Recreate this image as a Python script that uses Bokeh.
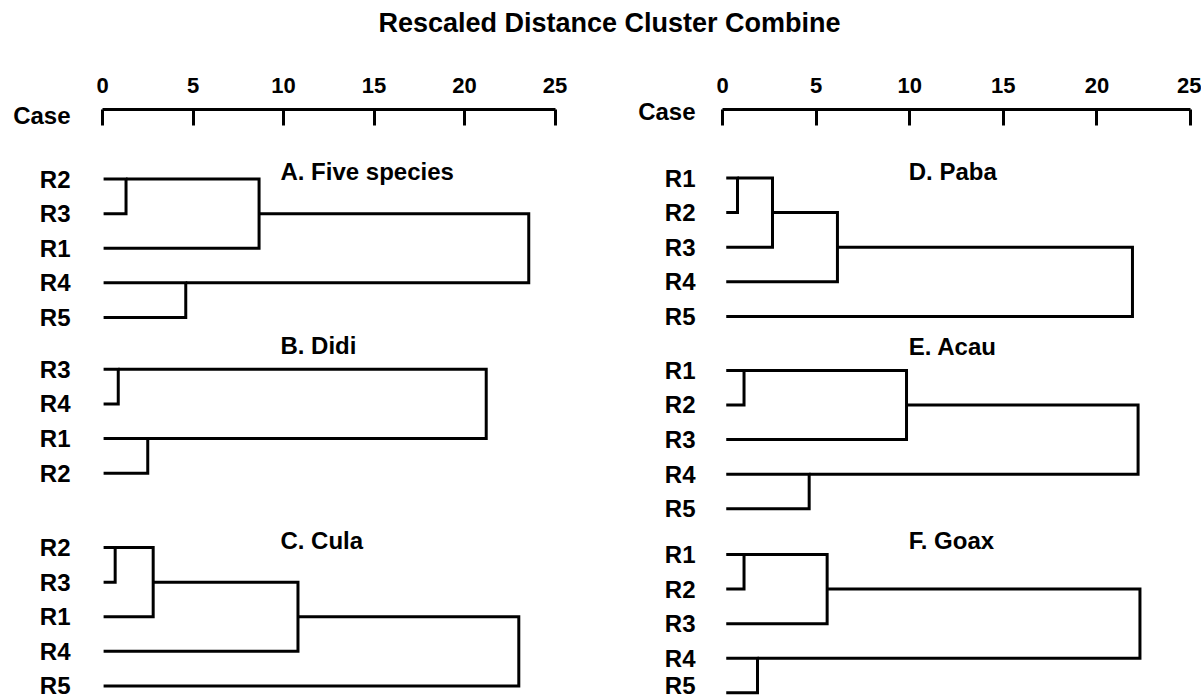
import math
from bokeh.plotting import figure
from bokeh.models import Range1d, LinearAxis, FixedTicker, Div
from bokeh.layouts import row, column
from bokeh.embed import file_html
from bokeh.resources import INLINE
from bokeh.core.properties import value

# ---------------- data ----------------
MAIN_TITLE = "Rescaled Distance Cluster Combine"
CASE_LABEL = "Case"
TICKS = [0, 5, 10, 15, 20, 25]

# links: (node_a, node_b, rescaled distance); leaves are 0..n-1 in display order,
# each merge creates the next node index
A_title = "A. Five species"
A_leaves = ["R2", "R3", "R1", "R4", "R5"]
A_links = [(0, 1, 1.3), (5, 2, 8.65), (3, 4, 4.6), (6, 7, 23.55)]

B_title = "B. Didi"
B_leaves = ["R3", "R4", "R1", "R2"]
B_links = [(0, 1, 0.87), (2, 3, 2.5), (4, 5, 21.2)]

C_title = "C. Cula"
C_leaves = ["R2", "R3", "R1", "R4", "R5"]
C_links = [(0, 1, 0.7), (5, 2, 2.8), (6, 3, 10.8), (7, 4, 23.0)]

D_title = "D. Paba"
D_leaves = ["R1", "R2", "R3", "R4", "R5"]
D_links = [(0, 1, 0.8), (5, 2, 2.67), (6, 3, 6.14), (7, 4, 21.9)]

E_title = "E. Acau"
E_leaves = ["R1", "R2", "R3", "R4", "R5"]
E_links = [(0, 1, 1.15), (5, 2, 9.83), (3, 4, 4.63), (6, 7, 22.2)]

F_title = "F. Goax"
F_leaves = ["R1", "R2", "R3", "R4", "R5"]
F_links = [(0, 1, 1.15), (5, 2, 5.59), (3, 4, 1.87), (6, 7, 22.3)]

# ---------------- layout / style ----------------
FONT = "Liberation Sans"
DIV_H = 48
FIG_H = 650
TOP_BORDER = 61
ROW_PX = 34.6
Y_END = (FIG_H - TOP_BORDER) / ROW_PX


def build_panel_paths(leaves, links, leaf_x, y0):
    nx = [leaf_x] * len(leaves)
    ny = list(range(len(leaves)))
    xs, ys = [], []
    for a, b, h in links:
        xa, ya, xb, yb = nx[a], ny[a], nx[b], ny[b]
        xs.append([xa, h, h, xb])
        ys.append([y0 + ya, y0 + ya, y0 + yb, y0 + yb])
        nx.append(h)
        ny.append(math.floor((ya + yb) / 2))
    return xs, ys


def make_fig(width, frame_left, zero_px, unit_px, panels, offsets, title_dy,
             title_x, leaf_x, case_y):
    x_start = (frame_left - zero_px) / unit_px
    x_end = (width - zero_px) / unit_px
    p = figure(width=width, height=FIG_H, output_backend="svg", toolbar_location=None,
               x_range=Range1d(x_start, x_end), y_range=Range1d(Y_END, 0),
               x_axis_location=None, y_axis_location=None,
               min_border_top=TOP_BORDER, min_border_bottom=0,
               min_border_left=frame_left, min_border_right=0, title=None)
    p.outline_line_color = None
    p.xgrid.visible = False
    p.ygrid.visible = False

    ax = LinearAxis(ticker=FixedTicker(ticks=TICKS), bounds=(0, 25))
    ax.axis_line_width = 3
    ax.axis_line_color = "black"
    ax.major_tick_in = 16
    ax.major_tick_out = 0
    ax.major_tick_line_width = 3
    ax.major_tick_line_color = "black"
    ax.minor_tick_line_color = None
    ax.major_label_standoff = 17
    ax.major_label_text_font = FONT
    ax.major_label_text_font_style = "bold"
    ax.major_label_text_font_size = "22px"
    ax.major_label_text_color = "black"
    p.add_layout(ax, "above")

    # row labels (and "Case") as a left axis with labelled ticks
    tick_pos = [case_y]
    tick_txt = [CASE_LABEL]
    for (ttl, leaves, links), y0, tdy in zip(panels, offsets, title_dy):
        xs, ys = build_panel_paths(leaves, links, leaf_x, y0)
        p.multi_line(xs=xs, ys=ys, line_color="black", line_width=3,
                     line_join="miter")
        tick_pos += [y0 + i for i in range(len(leaves))]
        tick_txt += leaves
        p.text(x=[title_x], y=[y0 + tdy], text=[ttl], text_font=value(FONT),
               text_font_style="bold", text_font_size="24px",
               text_baseline="middle", text_align="left", text_color="black")

    yax = LinearAxis(ticker=FixedTicker(ticks=tick_pos),
                     major_label_overrides={t: s for t, s in zip(tick_pos, tick_txt)})
    yax.axis_line_color = None
    yax.major_tick_line_color = None
    yax.minor_tick_line_color = None
    yax.major_tick_in = 0
    yax.major_tick_out = 0
    yax.major_label_standoff = 10
    yax.major_label_text_font = FONT
    yax.major_label_text_font_style = "bold"
    yax.major_label_text_font_size = "24px"
    yax.major_label_text_color = "black"
    p.add_layout(yax, "left")
    return p


left = make_fig(600, 80, 102, 18.1,
                [(A_title, A_leaves, A_links), (B_title, B_leaves, B_links),
                 (C_title, C_leaves, C_links)],
                [2.01, 7.51, 12.66], [-0.21, -0.70, -0.20],
                title_x=9.83, leaf_x=0.06, case_y=0.17)

right = make_fig(601, 105, 122, 18.72,
                 [(D_title, D_leaves, D_links), (E_title, E_leaves, E_links),
                  (F_title, F_leaves, F_links)],
                 [1.98, 7.54, 12.86], [-0.19, -0.70, -0.40],
                 title_x=9.95, leaf_x=0.2, case_y=0.06)

title = Div(text=f'<span style="position:relative;left:9px">{MAIN_TITLE}</span>',
            width=1201, height=DIV_H, margin=0,
            styles={"text-align": "center", "font-size": "27px", "font-weight": "bold",
                    "font-family": "Liberation Sans, Arial, sans-serif",
                    "line-height": "47px", "color": "black"})

layout = column(title, row(left, right))
open("out.html", "w").write(file_html(layout, INLINE))
